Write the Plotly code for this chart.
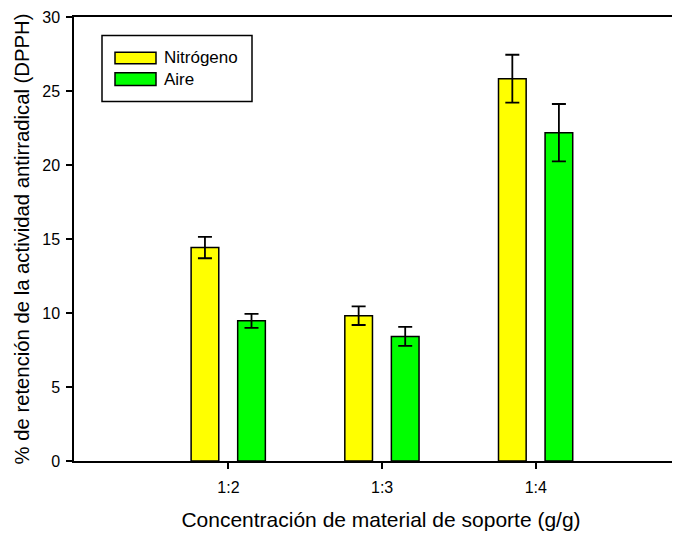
import plotly.graph_objects as go

categories = ["1:2", "1:3", "1:4"]
nitrogeno = [14.42, 9.82, 25.83]
nitrogeno_err = [0.72, 0.63, 1.62]
aire = [9.47, 8.42, 22.18]
aire_err = [0.47, 0.64, 1.94]

FONT = "Arial, Liberation Sans, sans-serif"
YELLOW = "#FFFF00"
GREEN = "#00FF00"

fig = go.Figure()
fig.add_trace(go.Bar(
    x=categories, y=nitrogeno, name="Nitrógeno",
    width=0.18, offset=-0.243,
    marker=dict(color=YELLOW, line=dict(color="black", width=1.5)),
    error_y=dict(type="data", array=nitrogeno_err, color="black", thickness=1.8, width=7),
))
fig.add_trace(go.Bar(
    x=categories, y=aire, name="Aire",
    width=0.18, offset=0.06,
    marker=dict(color=GREEN, line=dict(color="black", width=1.5)),
    error_y=dict(type="data", array=aire_err, color="black", thickness=1.8, width=7),
))

# page body has an 8px margin, so margins are offset to compensate
fig.update_layout(
    width=680, height=536,
    margin=dict(l=66, r=0, t=9, b=83),
    plot_bgcolor="white", paper_bgcolor="white",
    showlegend=False,
    font=dict(family=FONT, color="black"),
)
fig.update_xaxes(
    type="category", range=[-1.005, 2.99], automargin=False,
    showline=True, linecolor="black", linewidth=1.5, mirror=True,
    ticks="outside", ticklen=6, tickwidth=1.5, tickcolor="black",
    showgrid=False, zeroline=False,
    tickfont=dict(size=16, family=FONT), ticklabelstandoff=5,
    title=dict(text="Concentración de material de soporte (g/g)", font=dict(size=21, family=FONT), standoff=17),
)
fig.update_yaxes(
    range=[0, 30], dtick=5, automargin=False,
    showline=True, linecolor="black", linewidth=1.5,
    ticks="outside", ticklen=6, tickwidth=1.5, tickcolor="black",
    showgrid=False, zeroline=False,
    tickfont=dict(size=16, family=FONT), ticklabelstandoff=3,
    title=dict(text="% de retención de la actividad antirradical (DPPH)", font=dict(size=20.3, family=FONT), standoff=7),
)

# Legend drawn manually to match wide swatches (page pixel -> paper coords)
px = lambda v: (v - 74) / 614
py = lambda v: (461.5 - v) / 444
fig.add_shape(type="rect", xref="paper", yref="paper",
              x0=px(102), x1=px(252), y0=py(102), y1=py(36),
              line=dict(color="black", width=1.5), fillcolor="white")
fig.add_shape(type="rect", xref="paper", yref="paper",
              x0=px(115), x1=px(156), y0=py(64.3), y1=py(52.7),
              line=dict(color="black", width=1.5), fillcolor=YELLOW)
fig.add_shape(type="rect", xref="paper", yref="paper",
              x0=px(115), x1=px(156), y0=py(86), y1=py(73.3),
              line=dict(color="black", width=1.5), fillcolor=GREEN)
fig.add_annotation(xref="paper", yref="paper", x=px(162), y=py(58.5),
                   text="Nitrógeno", showarrow=False, xanchor="left", yanchor="middle",
                   font=dict(size=17, family=FONT, color="black"))
fig.add_annotation(xref="paper", yref="paper", x=px(162), y=py(79.5),
                   text="Aire", showarrow=False, xanchor="left", yanchor="middle",
                   font=dict(size=17, family=FONT, color="black"))

fig.write_html("out.html")
